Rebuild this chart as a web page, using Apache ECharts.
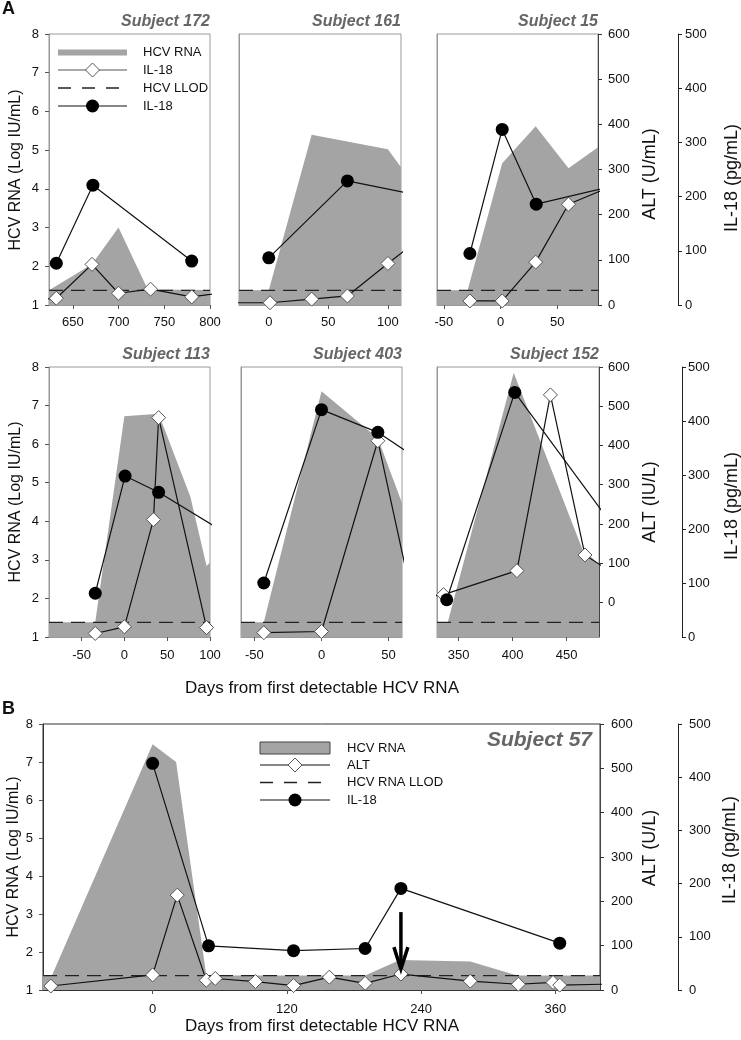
<!DOCTYPE html>
<html><head><meta charset="utf-8">
<script src="https://cdn.jsdelivr.net/npm/echarts@6/dist/echarts.min.js"></script>
<style>html,body{margin:0;padding:0;background:#fff}#c{width:741px;height:1040px}</style>
</head><body><div id="c"></div>
<script>
const FONT = "'Liberation Sans', Arial, sans-serif";
const hcvTicks = [1,2,3,4,5,6,7,8];
const altTicks = [0,100,200,300,400,500,600];
const il18Ticks = [0,100,200,300,400,500];
const LLOD = 1.38;

// Subject 172
const s172XTicks = [650,700,750,800];
const s172HcvDays = [624,671,700,732,830];
const s172HcvVals = [1.38,2.05,3.0,1.4,1.38];
const s172AltDays = [600,632,671,700,735,780,830];
const s172AltVals = [10,15,90,26,35,18,32];
const s172Il18Days = [632,672,780];
const s172Il18Vals = [77,221,81];

// Subject 161
const s161XTicks = [0,50,100];
const s161HcvDays = [-30,0,36,100,125];
const s161HcvVals = [1.38,1.38,5.4,5.02,3.97];
const s161AltDays = [-40,1,36,66,100,125];
const s161AltVals = [5,5,13,20,92,143];
const s161Il18Days = [0,66,150];
const s161Il18Vals = [87,229,192];

// Subject 15
const s15XTicks = [-50,0,50];
const s15HcvDays = [-60,-29,1.5,31,60,100];
const s15HcvVals = [1.38,1.38,4.66,5.62,4.53,5.37];
const s15AltDays = [-27,1.5,31,60,100];
const s15AltVals = [9,9,95,223,265];
const s15Il18Days = [-27,1.5,31.5,100];
const s15Il18Vals = [95,324,186,220];

// Subject 113
const s113XTicks = [-50,0,50,100];
const s113HcvDays = [-100,-34,0,40,77,96,120];
const s113HcvVals = [1.38,1.38,6.72,6.79,4.64,2.84,3.4];
const s113AltDays = [-34,0,34,40,96];
const s113AltVals = [-79,-62,211,471,-64];
const s113Il18Days = [-34,0.8,40,130];
const s113Il18Vals = [81,298,268,181];

// Subject 403
const s403XTicks = [-50,0,50];
const s403HcvDays = [-70,-43,0,42,70];
const s403HcvVals = [1.38,1.38,7.37,6.15,3.54];
const s403AltDays = [-43,0,42,72];
const s403AltVals = [-77,-74,412,-60];
const s403Il18Days = [-43,0,42,80];
const s403Il18Vals = [100,421,379,316];

// Subject 152
const s152XTicks = [350,400,450];
const s152HcvDays = [320,340,401,465,500];
const s152HcvVals = [1.38,1.38,7.85,3.25,2.43];
const s152AltDays = [310,336,404,435,467,500];
const s152AltVals = [10,20,81,529,121,62];
const s152Il18Days = [339,402,500];
const s152Il18Vals = [69,453,186];

// Subject 57 (panel B)
const s57XTicks = [0,120,240,360];
const s57HcvDays = [-110,-90,0,21,48,190,221,284,326,420];
const s57HcvVals = [1.38,1.38,7.47,7.0,1.38,1.38,1.79,1.75,1.38,1.38];
const s57AltDays = [-91,0,22,48,56,92,126,158,190,222,284,327,358,364,420];
const s57AltVals = [9,34,214,22,26,19,10,29,15,36,20,13,17,11,14];
const s57Il18Days = [0,50,126,190,222,364];
const s57Il18Vals = [426,83,74,78,191,88];
const s57ArrowDay = [222];
const s57ArrowTop = [3.05];
const s57ArrowBottom = [1.55];

function pts(d, v){ return d.map((x,i)=>[x, v[i]]); }

const panels = [
 {title:'Subject 172', xMin:624, xMax:800, xTicks:s172XTicks, hcv:pts(s172HcvDays,s172HcvVals), alt:pts(s172AltDays,s172AltVals), il:pts(s172Il18Days,s172Il18Vals),
  left:49, top:34, width:161, height:271, frame:'#999', leftAxis:true, rightAxes:false, altMin:0, xMargin:11},
 {title:'Subject 161', xMin:-25, xMax:111, xTicks:s161XTicks, hcv:pts(s161HcvDays,s161HcvVals), alt:pts(s161AltDays,s161AltVals), il:pts(s161Il18Days,s161Il18Vals),
  left:239, top:34, width:162, height:271, frame:'#999', leftAxis:false, rightAxes:false, altMin:0, xMargin:11},
 {title:'Subject 15', xMin:-56, xMax:86, xTicks:s15XTicks, hcv:pts(s15HcvDays,s15HcvVals), alt:pts(s15AltDays,s15AltVals), il:pts(s15Il18Days,s15Il18Vals),
  left:437, top:34, width:161, height:271, frame:'#999', leftAxis:false, rightAxes:true, altMin:0, xMargin:11, ilOffset:80, altMargin:10, ilMargin:7},
 {title:'Subject 113', xMin:-88, xMax:100, xTicks:s113XTicks, hcv:pts(s113HcvDays,s113HcvVals), alt:pts(s113AltDays,s113AltVals), il:pts(s113Il18Days,s113Il18Vals),
  left:49, top:367, width:161, height:270, frame:'#999', leftAxis:true, rightAxes:false, altMin:-88, xMargin:12},
 {title:'Subject 403', xMin:-60, xMax:60, xTicks:s403XTicks, hcv:pts(s403HcvDays,s403HcvVals), alt:pts(s403AltDays,s403AltVals), il:pts(s403Il18Days,s403Il18Vals),
  left:241, top:367, width:161, height:270, frame:'#999', leftAxis:false, rightAxes:false, altMin:-88, xMargin:12},
 {title:'Subject 152', xMin:330, xMax:480, xTicks:s152XTicks, hcv:pts(s152HcvDays,s152HcvVals), alt:pts(s152AltDays,s152AltVals), il:pts(s152Il18Days,s152Il18Vals),
  left:437, top:367, width:162, height:270, frame:'#999', leftAxis:false, rightAxes:true, altMin:-88, xMargin:12, ilOffset:83, altMargin:9, ilMargin:6},
 {title:null, xMin:-98, xMax:400, xTicks:s57XTicks, hcv:pts(s57HcvDays,s57HcvVals), alt:pts(s57AltDays,s57AltVals), il:pts(s57Il18Days,s57Il18Vals),
  left:43, top:724, width:557, height:266, frame:'#333', leftAxis:true, rightAxes:true, altMin:0, xMargin:13, ilOffset:78, altMargin:11, ilMargin:11}
];

const labelStyle = {fontFamily:FONT, fontSize:13, color:'#111'};
const grid=[], xAxis=[], yAxis=[], series=[];
panels.forEach((p,i)=>{
  grid.push({left:p.left, top:p.top, width:p.width, height:p.height, show:true, borderColor:p.frame, borderWidth:1, backgroundColor:'rgba(0,0,0,0)', containLabel:false});
  xAxis.push({gridIndex:i, type:'value', min:p.xMin, max:p.xMax,
    axisLine:{show:true, onZero:false, lineStyle:{color:p.frame, width:1}},
    axisTick:{show:true, customValues:p.xTicks, length:4, lineStyle:{color:'#555'}},
    axisLabel:Object.assign({customValues:p.xTicks, margin:p.xMargin}, labelStyle),
    splitLine:{show:false}});
  yAxis.push({gridIndex:i, type:'value', min:1, max:8, interval:1, position:'left',
    axisLine:{show:true, onZero:false, lineStyle:{color:p.frame}},
    axisTick:{show:p.leftAxis, length:4, lineStyle:{color:'#555'}},
    axisLabel:Object.assign({show:p.leftAxis, margin:10}, labelStyle),
    splitLine:{show:false}});
  yAxis.push({gridIndex:i, type:'value', min:p.altMin, max:600, position:'right', show:p.rightAxes,
    axisLine:{show:true, onZero:false, lineStyle:{color:'#444'}},
    axisTick:{show:true, customValues:altTicks, length:4, lineStyle:{color:'#333'}},
    axisLabel:Object.assign({customValues:altTicks, margin:p.altMargin||10}, labelStyle),
    splitLine:{show:false}});
  yAxis.push({gridIndex:i, type:'value', min:0, max:500, interval:100, position:'right', offset:p.ilOffset||80, show:p.rightAxes,
    axisLine:{show:true, onZero:false, lineStyle:{color:'#222'}},
    axisTick:{show:true, length:4, lineStyle:{color:'#222'}},
    axisLabel:Object.assign({margin:p.ilMargin||7}, labelStyle),
    splitLine:{show:false}});
  series.push({type:'line', xAxisIndex:i, yAxisIndex:3*i, data:p.hcv, symbol:'none', silent:true,
    lineStyle:{width:0}, areaStyle:{color:'#a4a4a4', opacity:1, origin:'start'}, z:1});
  series.push({type:'line', xAxisIndex:i, yAxisIndex:3*i, data:[[p.xMin,LLOD],[p.xMax,LLOD]], symbol:'none', silent:true,
    lineStyle:{color:'#222', width:1.3, type:[14,8]}, z:2});
  series.push({type:'line', xAxisIndex:i, yAxisIndex:3*i+1, data:p.alt, symbol:'diamond', symbolSize:14, showAllSymbol:true, silent:true,
    itemStyle:{color:'#fff', borderColor:'#555', borderWidth:1}, lineStyle:{color:'#111', width:1.2}, z:3});
  series.push({type:'line', xAxisIndex:i, yAxisIndex:3*i+2, data:p.il, symbol:'circle', symbolSize:13, showAllSymbol:true, silent:true,
    itemStyle:{color:'#000'}, lineStyle:{color:'#111', width:1.2}, z:4});
});

// arrow in panel B
series.push({type:'custom', xAxisIndex:6, yAxisIndex:18, silent:true, z:5,
  data: s57ArrowDay.map((d,i)=>[d, s57ArrowTop[i], s57ArrowBottom[i]]),
  encode:{x:0, y:[1,2]},
  renderItem:(params, api)=>{
    const t = api.coord([api.value(0), api.value(1)]);
    const b = api.coord([api.value(0), api.value(2)]);
    return {type:'group', children:[
      {type:'line', shape:{x1:t[0], y1:t[1], x2:b[0], y2:b[1]-2}, style:{stroke:'#000', lineWidth:3.5}},
      {type:'polyline', shape:{points:[[b[0]-7,b[1]-22],[b[0],b[1]],[b[0]+7,b[1]-22]]}, style:{stroke:'#000', fill:null, lineWidth:3.5}}
    ]};
  }});

function txt(x,y,text,opt){
  opt = opt||{};
  return {type:'text', x:x, y:y, rotation:opt.rot||0, z:10, silent:true,
    style:{text:text, fill:opt.color||'#111', font:(opt.font||'13px')+' '+FONT,
      align:opt.align||'left', textAlign:opt.align||'left', verticalAlign:'middle', textVerticalAlign:'middle'}};
}
const graphics = [];
graphics.push(txt(2,9,'A',{font:'bold 18px'}));
graphics.push(txt(2,709,'B',{font:'bold 18px'}));
panels.forEach(p=>{ if(p.title) graphics.push(txt(p.left+p.width, p.top-12, p.title, {font:'italic bold 16px', color:'#666', align:'right'})); });
graphics.push(txt(592,740,'Subject 57',{font:'italic bold 21px', color:'#666', align:'right'}));
// axis titles
graphics.push(txt(16,170,'HCV RNA (Log IU/mL)',{font:'16px', rot:Math.PI/2, align:'center'}));
graphics.push(txt(16,502,'HCV RNA (Log IU/mL)',{font:'16px', rot:Math.PI/2, align:'center'}));
graphics.push(txt(14,857,'HCV RNA (Log IU/mL)',{font:'16px', rot:Math.PI/2, align:'center'}));
graphics.push(txt(650,174,'ALT (U/mL)',{font:'18px', rot:Math.PI/2, align:'center'}));
graphics.push(txt(732,178,'IL-18 (pg/mL)',{font:'18px', rot:Math.PI/2, align:'center'}));
graphics.push(txt(650,502,'ALT (IU/L)',{font:'18px', rot:Math.PI/2, align:'center'}));
graphics.push(txt(732,506,'IL-18 (pg/mL)',{font:'18px', rot:Math.PI/2, align:'center'}));
graphics.push(txt(650,848,'ALT (U/L)',{font:'18px', rot:Math.PI/2, align:'center'}));
graphics.push(txt(730,850,'IL-18 (pg/mL)',{font:'18px', rot:Math.PI/2, align:'center'}));
graphics.push(txt(322,688,'Days from first detectable HCV RNA',{font:'17px', align:'center'}));
graphics.push(txt(322,1026,'Days from first detectable HCV RNA',{font:'17px', align:'center'}));

function legend(x0, x1, ys, tx, labels, rectH, rectStroke, lineColor){
  const cx = (x0+x1)/2;
  graphics.push({type:'rect', z:10, silent:true, shape:{x:x0, y:ys[0]-rectH/2, width:x1-x0, height:rectH}, style:{fill:'#a4a4a4', stroke:rectStroke, lineWidth:rectStroke?1:0}});
  graphics.push({type:'line', z:10, silent:true, shape:{x1:x0,y1:ys[1],x2:x1,y2:ys[1]}, style:{stroke:lineColor, lineWidth:1.2}});
  graphics.push({type:'polygon', z:11, silent:true, shape:{points:[[cx-7,ys[1]],[cx,ys[1]-7],[cx+7,ys[1]],[cx,ys[1]+7]]}, style:{fill:'#fff', stroke:'#555', lineWidth:1}});
  graphics.push({type:'line', z:10, silent:true, shape:{x1:x0,y1:ys[2],x2:x1,y2:ys[2]}, style:{stroke:'#222', lineWidth:1.3, lineDash:[13,11]}});
  graphics.push({type:'line', z:10, silent:true, shape:{x1:x0,y1:ys[3],x2:x1,y2:ys[3]}, style:{stroke:'#111', lineWidth:1.2}});
  graphics.push({type:'circle', z:11, silent:true, shape:{cx:cx, cy:ys[3], r:6.5}, style:{fill:'#000'}});
  labels.forEach((l,i)=>graphics.push(txt(tx, ys[i], l, {font:'13px'})));
}
legend(58, 127, [52.5,70,88,106], 143, ['HCV RNA','IL-18','HCV LLOD','IL-18'], 6, null, '#555');
legend(260, 330, [748,765,782.5,800], 347, ['HCV RNA','ALT','HCV RNA LLOD','IL-18'], 12, '#444', '#111');

const chart = echarts.init(document.getElementById('c'), null, {renderer:'canvas'});
chart.setOption({animation:false, backgroundColor:'#fff', grid, xAxis, yAxis, series, graphic:graphics});
</script></body></html>
